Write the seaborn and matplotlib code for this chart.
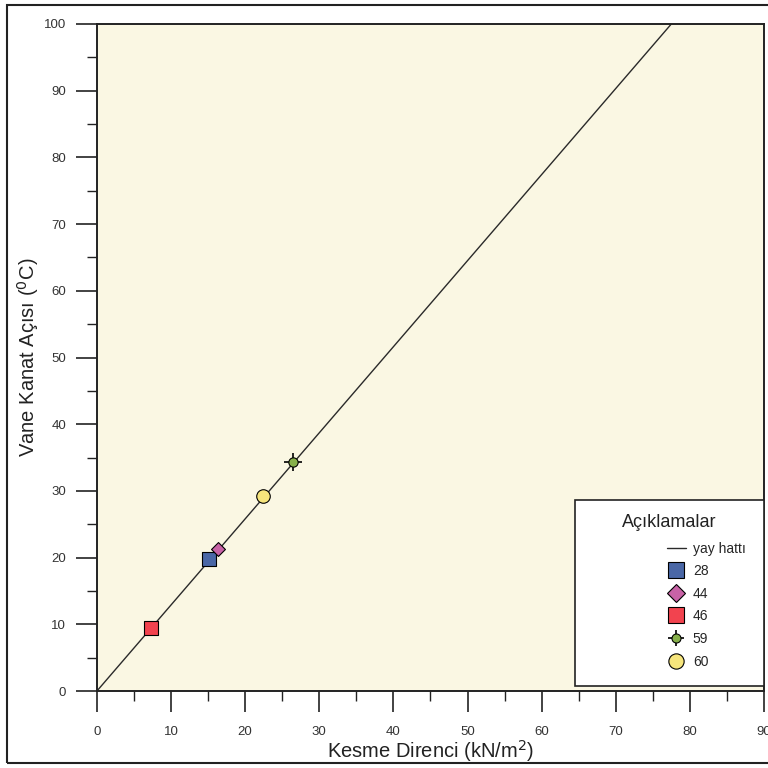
import matplotlib
matplotlib.use("Agg")
import matplotlib.pyplot as plt
from matplotlib.lines import Line2D
from matplotlib.patches import Rectangle
from matplotlib.legend_handler import HandlerTuple
from matplotlib.ticker import MultipleLocator
import seaborn as sns

sns.set_theme(style="ticks")
plt.rcParams['font.family'] = ['Liberation Sans', 'DejaVu Sans']

# yay hatti (line through origin)
yay_x = [0, 77.5]
yay_y = [0, 100]

# sample points: label -> (shear strength, vane angle)
labels = ["28", "44", "46", "59", "60"]
kesme = [15.2, 16.4, 7.3, 26.4, 22.4]
aci = [19.8, 21.3, 9.4, 34.3, 29.2]
colors = ["#4a67a6", "#c862a6", "#f2434f", "#86b04a", "#f6e57c"]
markers = ["s", "D", "s", "o", "o"]
sizes = [95, 50, 95, 45, 95]

fig = plt.figure(figsize=(7.68, 7.68), dpi=100)
fig.patch.set_facecolor("white")
ax = fig.add_axes([0.126, 0.100, 0.869, 0.869])
ax.set_facecolor("#faf7e3")

sns.lineplot(x=yay_x, y=yay_y, ax=ax, color="#2a2a2a", lw=1.0)

handles = [Line2D([], [], color="#2a2a2a", lw=1.0)]
for lab, xv, yv, c, m, s in zip(labels, kesme, aci, colors, markers, sizes):
    if lab == "59":
        sns.scatterplot(x=[xv], y=[yv], ax=ax, marker="+", s=160, color="black",
                        linewidth=1.2, zorder=4)
        sns.scatterplot(x=[xv], y=[yv], ax=ax, marker="o", s=s, color=c,
                        edgecolor="black", linewidth=0.8, zorder=5)
        h = (Line2D([], [], marker="+", ms=12, color="black", ls="none", mew=1.2),
             Line2D([], [], marker="o", ms=6.5, mfc=c, mec="black", ls="none", mew=0.8))
    else:
        sns.scatterplot(x=[xv], y=[yv], ax=ax, marker=m, s=s, color=c,
                        edgecolor="black", linewidth=0.8, zorder=5)
        h = Line2D([], [], marker=m, ms=11 if m != "D" else 9, mfc=c, mec="black",
                   ls="none", mew=0.8)
    handles.append(h)

ax.set_xlim(0, 90)
ax.set_ylim(0, 100)
ax.xaxis.set_major_locator(MultipleLocator(10))
ax.xaxis.set_minor_locator(MultipleLocator(5))
ax.yaxis.set_major_locator(MultipleLocator(10))
ax.yaxis.set_minor_locator(MultipleLocator(5))
ax.tick_params(which="major", direction="out", length=15, width=1.2,
               labelsize=9.5, labelcolor="#333333", color="#222222")
ax.tick_params(axis="x", which="major", pad=10)
ax.tick_params(axis="y", which="major", pad=7)
ax.tick_params(which="minor", direction="out", length=7.5, width=1.0, color="#222222")
for sp in ax.spines.values():
    sp.set_color("#222222")
    sp.set_linewidth(1.4)

ax.set_xlabel(r"Kesme Direnci (kN/m$^2$)", fontsize=14.5, labelpad=0, color="#222222")
ax.set_ylabel(r"Vane Kanat Açısı ($^0$C)", fontsize=14.5, labelpad=2, color="#222222")

# legend box
ax.add_patch(Rectangle((0.717, 0.008), 0.283, 0.278, transform=ax.transAxes,
                       facecolor="white", edgecolor="#222222", lw=1.2, zorder=6))
ax.text(0.857, 0.253, "Açıklamalar", transform=ax.transAxes, fontsize=13,
        ha="center", va="center", color="#222222", zorder=7)
leg = ax.legend(handles, ["yay hattı"] + labels, loc="upper left",
                bbox_to_anchor=(0.835, 0.243), frameon=False, fontsize=10,
                handlelength=1.4, handletextpad=0.5, labelspacing=0.62,
                handler_map={tuple: HandlerTuple(ndivide=1)})
leg.set_zorder(8)

# scanned page frame
fig.patches.append(Rectangle((0.009, 0.0065), 1.2, 0.987, transform=fig.transFigure,
                             fill=False, edgecolor="#222222", lw=1.5))

fig.savefig("out.png", dpi=100)
